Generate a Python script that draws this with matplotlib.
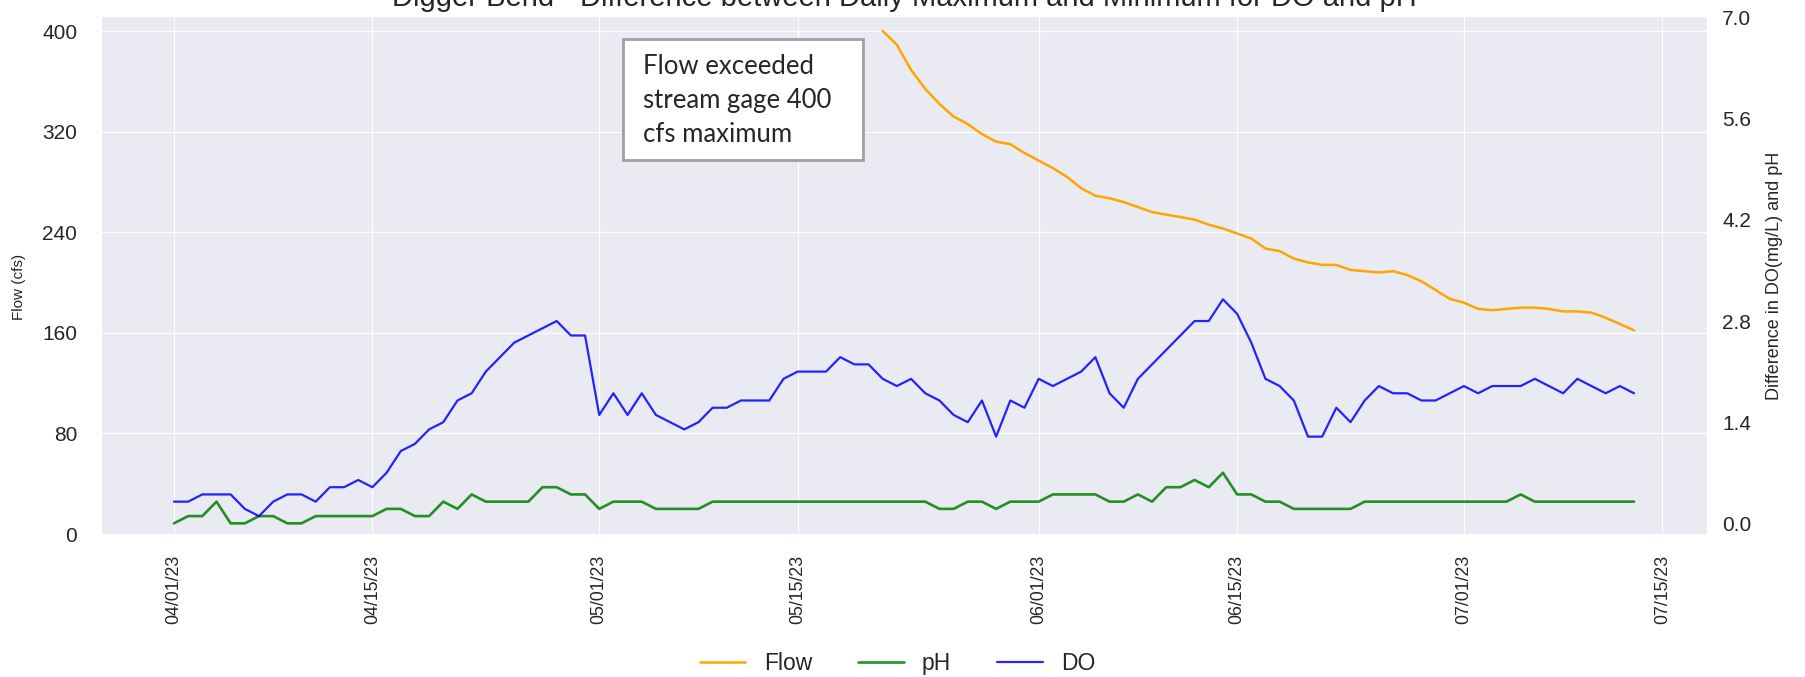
import matplotlib
matplotlib.use("Agg")
import matplotlib.pyplot as plt
import matplotlib.dates as mdates
from matplotlib.patches import Rectangle
import numpy as np
import pandas as pd
import seaborn as sns

sns.set_style("darkgrid")
plt.rcParams["font.family"] = ["Liberation Sans", "DejaVu Sans"]

# daily values, 04/01/23 .. 07/13/23
dates = pd.date_range("2023-04-01", periods=104, freq="D")

# flow above 400 cfs was not recorded by the gage -> NaN before 05/20
flow = [np.nan] * 50 + [
    400, 389, 369, 354, 342, 332, 326, 318, 312, 310,
    303, 297, 291, 284, 275, 269, 267, 264, 260, 256,
    254, 252, 250, 246, 243, 239, 235, 227, 225, 219,
    216, 214, 214, 210, 209, 208, 209, 206, 201, 194,
    187, 184, 179, 178, 179, 180, 180, 179, 177, 177,
    176, 172, 167, 162,
]

do = [
    0.3, 0.3, 0.4, 0.4, 0.4, 0.2, 0.1, 0.3, 0.4, 0.4,
    0.3, 0.5, 0.5, 0.6, 0.5, 0.7, 1.0, 1.1, 1.3, 1.4,
    1.7, 1.8, 2.1, 2.3, 2.5, 2.6, 2.7, 2.8, 2.6, 2.6,
    1.5, 1.8, 1.5, 1.8, 1.5, 1.4, 1.3, 1.4, 1.6, 1.6,
    1.7, 1.7, 1.7, 2.0, 2.1, 2.1, 2.1, 2.3, 2.2, 2.2,
    2.0, 1.9, 2.0, 1.8, 1.7, 1.5, 1.4, 1.7, 1.2, 1.7,
    1.6, 2.0, 1.9, 2.0, 2.1, 2.3, 1.8, 1.6, 2.0, 2.2,
    2.4, 2.6, 2.8, 2.8, 3.1, 2.9, 2.5, 2.0, 1.9, 1.7,
    1.2, 1.2, 1.6, 1.4, 1.7, 1.9, 1.8, 1.8, 1.7, 1.7,
    1.8, 1.9, 1.8, 1.9, 1.9, 1.9, 2.0, 1.9, 1.8, 2.0,
    1.9, 1.8, 1.9, 1.8,
]

ph = [
    0.0, 0.1, 0.1, 0.3, 0.0, 0.0, 0.1, 0.1, 0.0, 0.0,
    0.1, 0.1, 0.1, 0.1, 0.1, 0.2, 0.2, 0.1, 0.1, 0.3,
    0.2, 0.4, 0.3, 0.3, 0.3, 0.3, 0.5, 0.5, 0.4, 0.4,
    0.2, 0.3, 0.3, 0.3, 0.2, 0.2, 0.2, 0.2, 0.3, 0.3,
    0.3, 0.3, 0.3, 0.3, 0.3, 0.3, 0.3, 0.3, 0.3, 0.3,
    0.3, 0.3, 0.3, 0.3, 0.2, 0.2, 0.3, 0.3, 0.2, 0.3,
    0.3, 0.3, 0.4, 0.4, 0.4, 0.4, 0.3, 0.3, 0.4, 0.3,
    0.5, 0.5, 0.6, 0.5, 0.7, 0.4, 0.4, 0.3, 0.3, 0.2,
    0.2, 0.2, 0.2, 0.2, 0.3, 0.3, 0.3, 0.3, 0.3, 0.3,
    0.3, 0.3, 0.3, 0.3, 0.3, 0.4, 0.3, 0.3, 0.3, 0.3,
    0.3, 0.3, 0.3, 0.3,
]

title = "Digger Bend - Difference between Daily Maximum and Minimum for DO and pH"
note = "Flow exceeded\nstream gage 400\ncfs maximum"

fig = plt.figure(figsize=(18.06, 6.77), dpi=100)
ax = fig.add_axes([0.0559, 0.2097, 0.8893, 0.7666])
ax2 = ax.twinx()

l1, = ax.plot(dates, flow, color="orange", lw=1.8, label="Flow")
l2, = ax2.plot(dates, ph, color="green", lw=1.9, alpha=0.85, label="pH")
l3, = ax2.plot(dates, do, color="blue", lw=1.6, alpha=0.85, label="DO")

ax.set_ylim(-0.8, 411.9)
ax.set_yticks(np.arange(0, 401, 80))
ax2.set_ylim(-0.162, 7.021)
ax2.set_yticks(np.linspace(0, 7, 6))
ax2.yaxis.set_major_formatter(plt.FormatStrFormatter("%.1f"))
ax2.grid(False)

ax.xaxis.set_major_locator(mdates.DayLocator(bymonthday=[1, 15]))
ax.xaxis.set_major_formatter(mdates.DateFormatter("%m/%d/%y"))
ax.tick_params(axis="x", rotation=90, labelsize=12.8, pad=14, length=0, colors=".15")
ax.tick_params(axis="y", labelsize=15, pad=17, length=0, colors=".15")
ax2.tick_params(axis="y", labelsize=15, pad=11, length=0, colors=".15")

ax.set_ylabel("Flow (cfs)", fontsize=11)
ax.yaxis.set_label_coords(-0.0467, 0.478)
ax2.set_ylabel("Difference in DO(mg/L) and pH", fontsize=13)
ax2.yaxis.set_label_coords(1.0367, 0.499)
ax.set_title(title, fontsize=21, pad=7, color=".15")

fig.legend(handles=[l1, l2, l3], loc="center", bbox_to_anchor=(0.497, 0.02),
           ncol=3, frameon=False, fontsize=16.5)

# text box pasted over the chart
fig.add_artist(Rectangle((0.345, 0.764), 0.133, 0.178, transform=fig.transFigure,
                         facecolor="white", edgecolor="#a0a0a0", lw=2, zorder=10))
fig.text(0.356, 0.851, note, fontsize=18.5, family="Lato", va="center",
         linespacing=1.45, zorder=11)

fig.savefig("out.png", dpi=100)
